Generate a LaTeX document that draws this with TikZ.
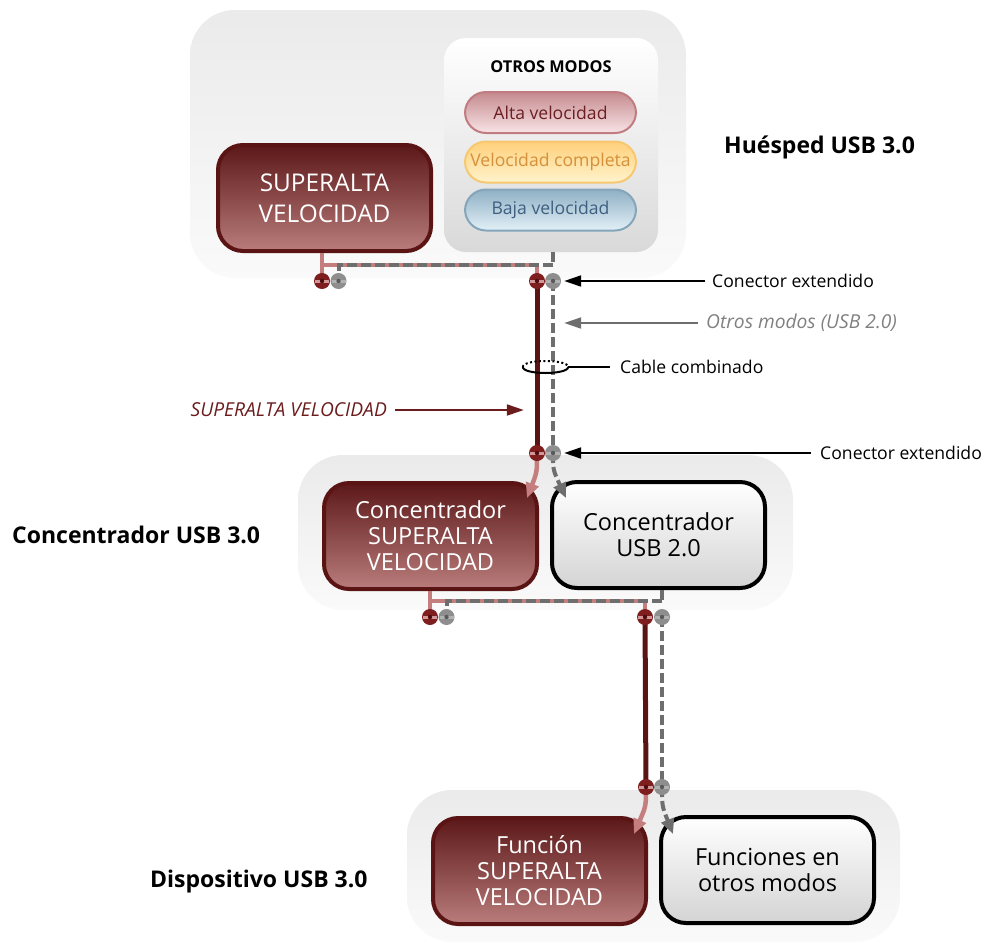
\documentclass[tikz,border=0pt]{standalone}
\usepackage{fontspec}
\setmainfont{Open Sans}
\usetikzlibrary{arrows.meta,calc}
\definecolor{dred}{HTML}{5A1414}
\definecolor{rose}{HTML}{C47E7E}
\definecolor{boxtop}{HTML}{5C1818}
\definecolor{boxbot}{HTML}{BA7C7C}
\definecolor{dgrey}{HTML}{6E6E6E}
\definecolor{plugred}{HTML}{7E1E1E}
\definecolor{plugdark}{HTML}{4E0E0E}
\definecolor{pluggrey}{HTML}{8E8E8E}
\definecolor{plugdgrey}{HTML}{5A5A5A}
\definecolor{lblred}{HTML}{6B1C1C}
\definecolor{lblgrey}{HTML}{808080}
\definecolor{altaD}{HTML}{C07C80}\definecolor{altaT}{HTML}{C58A8E}\definecolor{altaB}{HTML}{F8E4E6}\definecolor{altaX}{HTML}{6B1F23}
\definecolor{compD}{HTML}{F7C870}\definecolor{compT}{HTML}{FFD07A}\definecolor{compB}{HTML}{FFF3CC}\definecolor{compX}{HTML}{D4903A}
\definecolor{bajaD}{HTML}{85A5BB}\definecolor{bajaT}{HTML}{8FB0C4}\definecolor{bajaB}{HTML}{E2F0F7}\definecolor{bajaX}{HTML}{3E5F80}
\begin{document}
\begin{tikzpicture}[x=1pt,y=-1pt,
  bgbox/.style={rounded corners=45pt, top color=black!8, bottom color=black!2, draw=none, inner sep=0},
  srbox/.style={rounded corners=25pt, top color=boxtop, bottom color=boxbot, draw=dred, line width=4pt,
     text=white, align=center, minimum width=213pt, minimum height=106pt, inner sep=0},
  wbox/.style={rounded corners=25pt, top color=white, bottom color=black!17, draw=black, line width=4pt,
     text=black, align=center, minimum width=213pt, minimum height=106pt, inner sep=0},
  boxfont/.style={font=\fontsize{23.5}{26}\selectfont},
  pill/.style={rounded corners=21pt, line width=2pt, minimum width=171pt, minimum height=41pt, inner sep=0,
     font=\fontsize{17.6}{20}\selectfont},
  lbl/.style={inner sep=0, font=\fontsize{17.6}{20}\selectfont},
  ilbl/.style={inner sep=0, font=\itshape\fontsize{19.2}{22}\selectfont},
  blbl/.style={inner sep=0, font=\bfseries\fontsize{23}{26}\selectfont},
  redplug/.style={circle, minimum size=16pt, inner sep=0, fill=plugred,
     path picture={\draw[rose!80!white, line width=3pt] ([xshift=1pt]path picture bounding box.west) -- ([xshift=-1pt]path picture bounding box.east);
       \fill[plugdark] (path picture bounding box.center) circle (2.2pt);}},
  greyplug/.style={circle, minimum size=16pt, inner sep=0, fill=pluggrey,
     path picture={\draw[black!30, line width=3pt] ([xshift=1pt]path picture bounding box.west) -- ([xshift=-1pt]path picture bounding box.east);
       \fill[plugdgrey] (path picture bounding box.center) circle (2.2pt);}},
  pinkline/.style={rose, line width=4.5pt},
  darkline/.style={dred, line width=5pt},
  greydash/.style={dgrey, line width=4pt, dash pattern=on 10pt off 4pt},
  blackarrow/.style={black, line width=2pt, -{Triangle[length=17pt,width=11pt]}},
  greyarrow/.style={dgrey, line width=2pt, -{Triangle[length=17pt,width=11pt]}},
  redarrow/.style={lblred, line width=2pt, -{Triangle[length=17pt,width=11pt]}},
  pinkarrow/.style={rose, line width=4.5pt, -{Triangle[length=15pt,width=13pt]}},
  greydasharrow/.style={dgrey, line width=4pt, dash pattern=on 10pt off 4pt, -{Triangle[length=15pt,width=13pt]}}
]
\useasboundingbox (0,0) rectangle (987,943);

% backgrounds
\node[bgbox, minimum width=496pt, minimum height=268pt] (hostbg) at (438,144) {};
\node[bgbox, minimum width=495pt, minimum height=155pt] (hubbg) at (545.5,532.5) {};
\node[bgbox, minimum width=493pt, minimum height=152pt] (devbg) at (653.5,866) {};

% host
\node[srbox, font=\fontsize{24.4}{31}\selectfont] (hsr) at (324.5,198) {SUPERALTA\\VELOCIDAD};
\node[rounded corners=22pt, top color=white, bottom color=black!15, minimum width=214pt, minimum height=214pt, inner sep=0] (om) at (551,145) {};
\node[inner sep=0, font=\bfseries\fontsize{16.3}{18}\selectfont] (omt) at (551,67) {OTROS MODOS};
\node[pill, draw=altaD, top color=altaT, bottom color=altaB, text=altaX] (alta) at (550.5,112.5) {Alta velocidad};
\node[pill, draw=compD, top color=compT, bottom color=compB, text=compX] (comp) at (550.5,162) {Velocidad completa};
\node[pill, draw=bajaD, top color=bajaT, bottom color=bajaB, text=bajaX] (baja) at (550.5,210) {Baja velocidad};
\node[blbl, anchor=west] (hostlbl) at (724,147) {Huésped USB 3.0};

% hub
\node[srbox, boxfont] (csr) at (430.5,536) {Concentrador\\SUPERALTA\\VELOCIDAD};
\node[wbox, boxfont] (cu2) at (658.5,535) {Concentrador\\USB 2.0};
\node[blbl, anchor=west] (hublbl) at (12,535) {Concentrador USB 3.0};

% device
\node[srbox, boxfont] (fsr) at (539.5,871) {Función\\SUPERALTA\\VELOCIDAD};
\node[wbox, boxfont] (fom) at (767.5,870) {Funciones en\\otros modos};
\node[blbl, anchor=west] (devlbl) at (150,882) {Dispositivo USB 3.0};

% plug positions
\coordinate (hA0) at (322,281); \coordinate (hB0) at (338.5,281);
\coordinate (hC0) at (537,281); \coordinate (hD0) at (553,281);
\coordinate (cA0) at (537,453); \coordinate (cB0) at (553,453);
\coordinate (uA0) at (430,617); \coordinate (uB0) at (446.5,617);
\coordinate (uC0) at (645,617); \coordinate (uD0) at (662,617);
\coordinate (dA0) at (646,787); \coordinate (dB0) at (662,787);
\coordinate (hj) at (0,265);
\coordinate (uj) at (0,601);
\coordinate (cAend) at (527,498);
\coordinate (cBend) at (566,498);
\coordinate (dAend) at (634,834);
\coordinate (dBend) at (673,834);

% host wiring
\draw[pinkline] (hsr.south -| hA0) -- (hA0);
\draw[pinkline] (hA0 |- hj) -- (hC0 |- hj) -- (hC0);
\draw[greydash] (om.south -| hD0) -- (hD0 |- hj);
\draw[greydash] (hD0 |- hj) -- (hB0 |- hj) -- (hB0);
\draw[greydash] (hD0) -- (cB0);
\draw[darkline] (hC0) -- (cA0);
\draw[pinkarrow] (cA0) .. controls (537,472) .. (cAend);
\draw[greydasharrow] (cB0) .. controls (553,470) .. (cBend);

% hub wiring
\draw[pinkline] (csr.south -| uA0) -- (uA0);
\draw[pinkline] (uA0 |- uj) -- (uC0 |- uj) -- (uC0);
\draw[greydash] (cu2.south -| uD0) -- (uD0 |- uj);
\draw[greydash] (uD0 |- uj) -- (uB0 |- uj) -- (uB0);
\draw[greydash] (uD0) -- (dB0);
\draw[darkline] (uC0) -- (dA0);
\draw[pinkarrow] (dA0) .. controls (646,806) .. (dAend);
\draw[greydasharrow] (dB0) .. controls (662,806) .. (dBend);

% plugs
\node[redplug] (hA) at (hA0) {}; \node[greyplug] (hB) at (hB0) {};
\node[redplug] (hC) at (hC0) {}; \node[greyplug] (hD) at (hD0) {};
\node[redplug] (cA) at (cA0) {}; \node[greyplug] (cB) at (cB0) {};
\node[redplug] (uA) at (uA0) {}; \node[greyplug] (uB) at (uB0) {};
\node[redplug] (uC) at (uC0) {}; \node[greyplug] (uD) at (uD0) {};
\node[redplug] (dA) at (dA0) {}; \node[greyplug] (dB) at (dB0) {};

% callouts
\node[lbl, anchor=west] (ce1) at (712,281) {Conector extendido};
\draw[blackarrow] ([xshift=-7pt]ce1.west) -- ([xshift=3pt]hD.east);
\node[ilbl, anchor=west, text=lblgrey] (omu) at (706,323) {Otros modos (USB 2.0)};
\draw[greyarrow] ([xshift=-8pt]omu.west) -- ([xshift=3pt]omu.west -| hD.east);
\node[inner sep=0, minimum width=45pt, minimum height=12pt] (ring) at (545.5,367) {};
\draw[black, line width=2pt, dash pattern=on 2pt off 2.5pt] (ring.west) .. controls (523,359) and (568,359) .. (ring.east);
\draw[black, line width=2pt] (ring.west) .. controls (523,375) and (568,375) .. (ring.east);
\node[lbl, anchor=west] (cc) at (620,367) {Cable combinado};
\draw[black, line width=2pt] (ring.east) -- ([xshift=-10pt]cc.west);
\node[ilbl, anchor=east, text=lblred] (srl) at (387,410) {SUPERALTA VELOCIDAD};
\draw[redarrow] ([xshift=8pt]srl.east) -- ([xshift=-5pt]srl.east -| hC.west);
\node[lbl, anchor=west] (ce2) at (820,453) {Conector extendido};
\draw[blackarrow] ([xshift=-9pt]ce2.west) -- ([xshift=3pt]cB.east);
\end{tikzpicture}
\end{document}
